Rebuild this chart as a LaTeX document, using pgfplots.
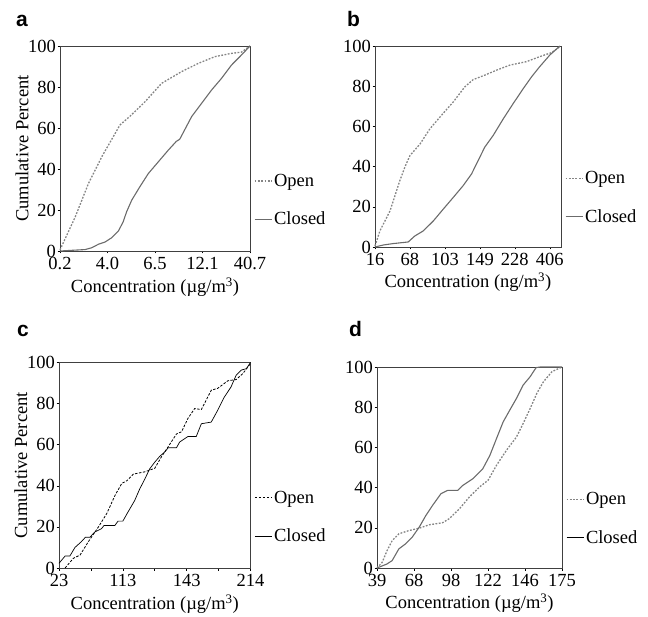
\documentclass[border=0pt]{standalone}
\usepackage{fontspec}
\setmainfont{Liberation Serif}
\newfontfamily\hel{Liberation Sans}
\usepackage{pgfplots}
\pgfplotsset{compat=1.18}

\newcommand\f{\fontsize{18.5bp}{22bp}\selectfont}
\definecolor{lgray}{gray}{0.52}
\definecolor{dgray}{gray}{0.42}

\pgfplotsset{
panel/.style={
scale only axis,
anchor=south west,
xmin=0, ymin=0, ymax=100,
ytick={0,20,40,60,80,100},
yticklabels={0,20,40,60,80,100},
xtick pos=left, ytick pos=left,
tick align=outside,
major tick length=2.5bp,
axis line style={black!75, line width=0.6bp},
tick style={black, line width=0.5bp},
ticklabel style={font=\f},
yticklabel style={inner sep=1.5bp},
every axis x label/.style={at={(0.5,-0.175)}, anchor=center, font=\f},
every axis y label/.style={at={(-0.2,0.5)}, rotate=90, anchor=center, font=\f},
clip=false,
legend cell align=left,
legend style={draw=none, fill=none, at={(1.02,0.385)}, anchor=north west,
font=\f, row sep=20.5bp, inner sep=0pt, nodes={inner sep=1.8bp}},
legend image code/.code={\draw[##1] (0bp,0bp) -- (17bp,0bp);},
},
opengray/.style={lgray, line width=1.3bp, dash pattern=on 1.8bp off 1.5bp},
closedgray/.style={dgray, line width=1.1bp},
openblack/.style={black, line width=0.8bp, dash pattern=on 2.5bp off 1.5bp},
closedblack/.style={black, line width=0.7bp},
}

\begin{document}
\begin{tikzpicture}
\useasboundingbox (0bp,0bp) rectangle (648bp,617bp);

% a
\begin{axis}[panel, at={(60bp,366bp)}, width=190bp, height=205bp,
xmax=4, xtick={0,1,2,3,4}, xticklabels={0.2,4.0,6.5,12.1,40.7},
xlabel={Concentration (µg/m\textsuperscript{3})}, ylabel={Cumulative Percent}]
\addlegendimage{opengray}
\addlegendimage{closedgray}
\addplot[opengray, forget plot] coordinates {(0,0.5) (0.32,16.6) (0.6,33) (0.88,46) (1.12,55.7) (1.26,61.4) (1.5,66.3) (1.79,72.8) (2.14,81.8) (2.56,87.5) (2.91,91.5) (3.26,94.8) (3.61,96.4) (3.82,97.0) (4,100)};
\addplot[closedgray, forget plot] coordinates {(0,0) (0.53,0.7) (0.67,1.6) (0.81,3.3) (0.95,4.4) (1.09,6.5) (1.23,9.8) (1.33,14.2) (1.40,19) (1.51,24.8) (1.68,31.3) (1.86,37.8) (2.07,43.5) (2.28,49.2) (2.45,53.5) (2.52,54.5) (2.60,58) (2.77,65.5) (2.98,72) (3.19,78.5) (3.40,84.2) (3.61,90.7) (3.82,95.6) (4,100)};
\legend{Open,Closed}
\end{axis}

% b
\begin{axis}[panel, at={(375bp,370bp)}, width=186bp, height=201bp,
xmax=5.32, xtick={0,1,2,3,4,5}, xticklabels={16,68,103,149,228,406},
xlabel={Concentration (ng/m\textsuperscript{3})}]
\addlegendimage{opengray}
\addlegendimage{closedgray}
\addplot[opengray, forget plot] coordinates {(0,0.5) (0.14,8) (0.43,18) (0.71,33) (0.86,40) (1,45.5) (1.29,51.3) (1.57,58.8) (1.9,65.5) (2.24,72.2) (2.57,79.7) (2.81,83.3) (3.14,85.5) (3.48,88) (3.86,90.5) (4.33,92.2) (4.71,94.7) (5.05,96.7) (5.29,99.7)};
\addplot[closedgray, forget plot] coordinates {(0,0) (0.24,1) (0.52,1.7) (0.95,2.5) (1.14,5.5) (1.38,8) (1.67,13) (1.95,18.8) (2.24,24.7) (2.52,30.5) (2.76,36.3) (2.95,43) (3.14,49.7) (3.38,55.5) (3.67,63.8) (3.95,71.3) (4.24,78.8) (4.48,84.7) (4.71,89.7) (5,95.5) (5.29,100)};
\legend{Open,Closed}
\end{axis}

% c
\begin{axis}[panel, at={(59bp,49bp)}, width=191.5bp, height=205.5bp,
xmax=6, xtick={0,1,2,3,4,5,6}, xticklabels={23,,113,,143,,214},
xlabel={Concentration (µg/m\textsuperscript{3})}, ylabel={Cumulative Percent}]
\addlegendimage{openblack}
\addlegendimage{closedblack}
\addplot[openblack, forget plot] coordinates {(0.19,0) (0.45,4.7) (0.66,6.3) (0.92,12.8) (1.24,20.1) (1.5,26.6) (1.76,35.5) (1.97,41.2) (2.13,42.5) (2.33,45.7) (2.69,46.8) (3.0,48.5) (3.21,54.1) (3.42,59) (3.68,65.2) (3.84,66.3) (4.04,72.8) (4.25,77.6) (4.46,77.1) (4.77,86.5) (4.97,87.4) (5.29,91.1) (5.55,91.7) (5.76,94.6) (6,99.5)};
\addplot[closedblack, forget plot] coordinates {(0,2.3) (0.19,5.8) (0.34,5.8) (0.5,10) (0.7,12.8) (0.83,15) (0.97,15) (1.12,17.5) (1.33,19.1) (1.41,20.7) (1.75,20.7) (1.85,22.8) (2.0,22.8) (2.16,27.2) (2.37,32.8) (2.53,38.5) (2.69,43.3) (2.84,48.2) (3.0,51.5) (3.16,54.4) (3.31,56.4) (3.42,58.5) (3.68,58.5) (3.78,61.3) (4.04,64) (4.3,64) (4.46,70.2) (4.77,71) (4.97,76.7) (5.18,83.2) (5.39,88.1) (5.55,93.8) (5.71,96.3) (5.87,97) (6,100)};
\legend{Open,Closed}
\end{axis}

% d
\begin{axis}[panel, at={(377bp,49bp)}, width=185bp, height=201bp,
xmax=5, xtick={0,1,2,3,4,5}, xticklabels={39,68,98,122,146,175},
xlabel={Concentration (µg/m\textsuperscript{3})}]
\addlegendimage{opengray}
\addlegendimage{closedblack}
\addplot[opengray, forget plot] coordinates {(0,0) (0.14,2.8) (0.27,8.6) (0.41,13.6) (0.59,17) (0.86,18.6) (1.14,19.8) (1.41,21.5) (1.77,22.5) (1.95,24.5) (2.23,29.5) (2.5,35.4) (2.77,40.3) (3.0,43.6) (3.23,51.1) (3.5,58.6) (3.77,65.2) (3.95,71.9) (4.14,79.4) (4.32,86.9) (4.5,92.7) (4.73,97.7) (5,100)};
\addplot[closedgray, forget plot] coordinates {(0,0) (0.27,2) (0.41,3.7) (0.59,9.5) (0.77,12) (0.95,15.3) (1.14,20.3) (1.32,26.1) (1.5,31.1) (1.73,37) (1.91,38.6) (2.18,38.6) (2.32,41.1) (2.59,44.4) (2.86,49.4) (3.05,56) (3.23,64.4) (3.41,72.7) (3.59,78.6) (3.77,84.4) (3.95,91) (4.14,95.2) (4.3,99.7) (4.41,100) (5,100)};
\legend{Open,Closed}
\end{axis}

\node[anchor=base west, font=\hel\bfseries\fontsize{21bp}{24bp}\selectfont, inner sep=0pt] at (16bp,590bp) {a};
\node[anchor=base west, font=\hel\bfseries\fontsize{21bp}{24bp}\selectfont, inner sep=0pt] at (347bp,590bp) {b};
\node[anchor=base west, font=\hel\bfseries\fontsize{21bp}{24bp}\selectfont, inner sep=0pt] at (17bp,280bp) {c};
\node[anchor=base west, font=\hel\bfseries\fontsize{21bp}{24bp}\selectfont, inner sep=0pt] at (349bp,280bp) {d};
\end{tikzpicture}
\end{document}
